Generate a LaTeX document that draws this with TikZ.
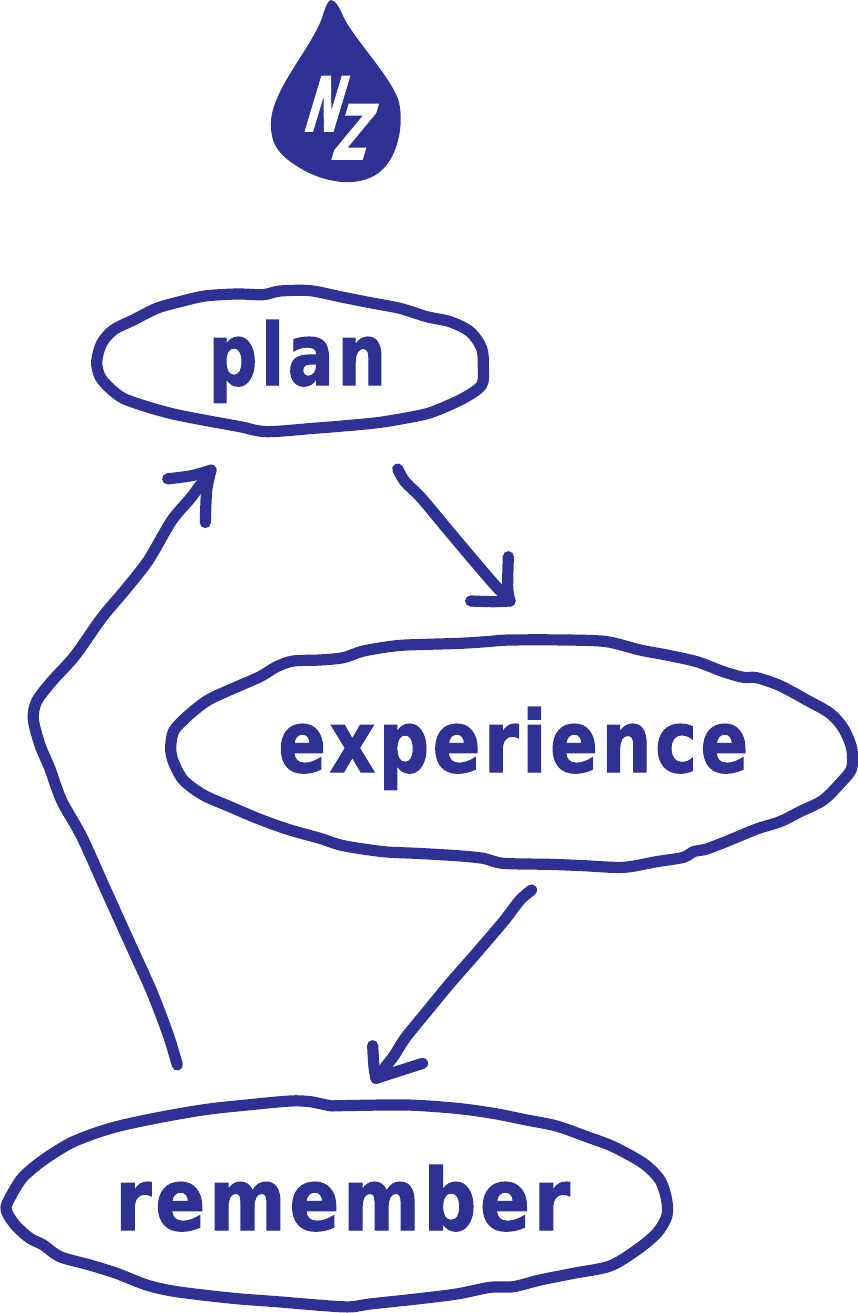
\documentclass[tikz,border=0pt]{standalone}
\usepackage{fontspec}
\setmainfont[BoldFeatures={FakeBold=2}]{DejaVu Sans}
\newfontfamily\wordfont[LetterSpace=5,BoldFeatures={FakeBold=1.5}]{DejaVu Sans}
\definecolor{ink}{HTML}{2E3192}
\tikzset{
  blob/.style={draw=ink,line width=8.4pt,line join=round},
  conn/.style={draw=ink,line width=8.4pt,line cap=round,line join=round},
  word/.style={text=ink,inner sep=0pt,anchor=base west,font=\wordfont\bfseries},
  logo/.style={text=white,inner sep=0pt,anchor=base west,font=\bfseries,xslant=0.3,transform shape},
  zoomed/.style={shift={#1},x=0.25pt,y=-0.25pt}
}
\begin{document}
\begin{tikzpicture}[x=0.75pt,y=-0.75pt]
\useasboundingbox (0,0) rectangle (857,1313);
% drop
\fill[ink] (331,0) .. controls (336,0) and (340,9) .. (344,18)
  .. controls (355,40) and (392,78) .. (399,102)
  .. controls (404,125) and (398,155) .. (382,170)
  .. controls (364,187) and (330,186) .. (300,168)
  .. controls (280,156) and (270,145) .. (271,122)
  .. controls (272,90) and (310,50) .. (322,18)
  .. controls (325,8) and (328,0) .. (331,0) -- cycle;
\node[logo] (nz) at (301,131) {\resizebox{27pt}{41pt}{N}\kern.8pt\raisebox{-21pt}{\resizebox{26pt}{41pt}{Z}}};
% blobs
\begin{scope}[zoomed={(80,280)}]
\draw[blob] plot[smooth cycle,tension=0.5] coordinates {(50,245)(65,190)(100,150)(160,120)(230,85)(300,65)(375,48)(470,42)(550,44)(600,33)(690,32)(780,50)(870,68)(960,85)(1040,110)(1110,125)(1170,155)(1205,205)(1210,260)(1205,315)(1150,355)(1060,395)(1000,410)(900,427)(800,437)(700,445)(560,455)(480,440)(370,420)(280,402)(200,380)(130,355)(90,325)(60,290)};
\end{scope}
\begin{scope}[zoomed={(150,625)}]
\draw[blob] plot[smooth cycle,tension=0.5] coordinates {(62,370)(70,320)(100,285)(140,250)(180,222)(250,190)(330,155)(380,125)(430,108)(510,105)(580,98)(640,78)(740,62)(830,58)(930,55)(1010,50)(1080,45)(1250,45)(1370,50)(1470,75)(1550,90)(1640,110)(1720,140)(1780,157)(1820,158)(1890,182)(1970,225)(2040,265)(2080,310)(2105,370)(2105,430)(2075,470)(2020,525)(1950,560)(1890,590)(1820,612)(1740,645)(1670,672)(1630,680)(1600,697)(1520,710)(1420,727)(1300,722)(1200,718)(1060,715)(1000,700)(920,692)(800,685)(700,680)(580,662)(510,640)(430,618)(370,598)(310,575)(240,545)(160,510)(100,465)(70,410)};
\end{scope}
\begin{scope}[zoomed={(0,1090)}]
\draw[blob] plot[smooth cycle,tension=0.5] coordinates {(18,350)(40,305)(70,260)(130,210)(210,160)(290,128)(370,105)(490,80)(620,58)(740,45)(870,33)(930,35)(990,47)(1020,47)(1220,45)(1370,55)(1480,70)(1580,90)(1670,108)(1760,140)(1840,170)(1930,220)(1980,270)(2000,330)(2000,380)(1970,430)(1910,480)(1830,528)(1720,550)(1620,570)(1540,590)(1470,592)(1370,612)(1240,628)(1110,642)(1060,650)(1020,650)(950,645)(830,635)(700,625)(530,605)(440,585)(350,550)(270,525)(180,500)(130,465)(90,445)(50,410)(25,375)};
\end{scope}
% words
\node[word] (plan) at (208,385) {\resizebox{133.5pt}{48.75pt}{plan}};
\node[word] (experience) at (278,772) {\resizebox{352.5pt}{48.75pt}{experience}};
\node[word] (remember) at (115,1230) {\resizebox{341pt}{48.75pt}{remember}};
% connectors
\begin{scope}[zoomed={(15,455)},y=-0.298pt]
\coordinate (a1s) at (487,1535);
\coordinate (a1e) at (588,38);
\coordinate (a1l) at (458,60);
\coordinate (a1r) at (571,170);
\draw[conn] plot[smooth,tension=0.5] coordinates {(a1s)(460,1460)(410,1350)(340,1220)(270,1090)(200,960)(140,870)(105,790)(75,730)(55,665)(65,620)(110,570)(180,505)(260,410)(330,340)(400,265)(470,165)(530,105)(a1e)};
\draw[conn] plot[smooth,tension=0.5] coordinates {(a1l)(530,52)(a1e)};
\draw[conn] plot[smooth,tension=0.5] coordinates {(a1e)(575,90)(a1r)};
\end{scope}
\begin{scope}[zoomed={(380,455)}]
\coordinate (a2s) at (53,42);
\coordinate (a2e) at (390,438);
\coordinate (a2l) at (385,305);
\coordinate (a2r) at (272,438);
\draw[conn] plot[smooth,tension=0.5] coordinates {(a2s)(75,80)(125,130)(200,220)(280,315)(340,385)(a2e)};
\draw[conn] plot[smooth,tension=0.5] coordinates {(a2l)(383,400)(a2e)};
\draw[conn] plot[smooth,tension=0.5] coordinates {(a2e)(340,440)(a2r)};
\end{scope}
\begin{scope}[zoomed={(360,880)}]
\coordinate (a3s) at (515,30);
\coordinate (a3e) at (48,595);
\coordinate (a3l) at (38,497);
\coordinate (a3r) at (188,550);
\draw[conn] plot[smooth,tension=0.5] coordinates {(a3s)(480,60)(430,125)(340,230)(270,310)(200,395)(135,475)(100,530)(a3e)};
\draw[conn] plot[smooth,tension=0.5] coordinates {(a3l)(42,560)(a3e)};
\draw[conn] plot[smooth,tension=0.5] coordinates {(a3e)(110,575)(a3r)};
\end{scope}
\end{tikzpicture}
\end{document}
